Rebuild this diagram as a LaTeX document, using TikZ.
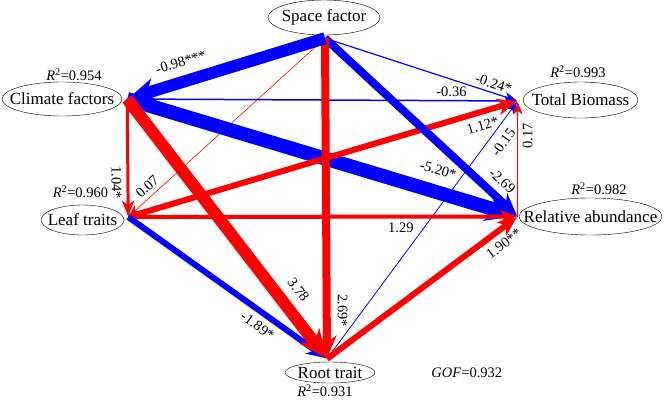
\documentclass[tikz,border=0pt]{standalone}
\usepackage{fontspec}
\setmainfont{Liberation Serif}
\usetikzlibrary{arrows.meta,positioning,shapes.geometric}

\begin{document}
\begin{tikzpicture}[x=1pt,y=-1pt,shorten >=1pt,
    >={Stealth[length=11pt 1.4,width=8pt 1.4,inset=3pt 0.45]},
    every node/.style={font=\fontsize{14.5}{16}\selectfont,inner sep=1pt},
    var/.style={ellipse,draw,thin,inner xsep=-20pt,inner ysep=0pt,
      font=\fontsize{17}{19}\selectfont},
    negl/.style={draw=blue,line width=#1},
    posl/.style={draw=red,line width=#1},
    lbl/.style={sloped,inner sep=1.5pt}]
  \useasboundingbox (0,0) rectangle (671,400);

  % variables
  \node[var,minimum width=112pt,minimum height=35pt] (space) at (324,17.5)  {Space factor};
  \node[var,minimum width=120pt,minimum height=34pt] (clim)  at (62,99)     {Climate factors};
  \node[var,minimum width=83pt,minimum height=30pt]  (leaf)  at (82.5,220)  {Leaf traits};
  \node[var,minimum width=90pt,minimum height=21pt,inner ysep=-1.5pt] (root) at (330,372.5) {Root trait};
  \node[var,minimum width=115pt,minimum height=36pt] (tbio)  at (580.5,100) {Total Biomass};
  \node[var,minimum width=143pt,minimum height=37pt] (rabd)  at (590.5,216.5) {Relative abundance};

  % where the paths meet
  \coordinate (sp) at ([xshift=1pt,yshift=-3pt]space.south);
  \coordinate (cl) at ([xshift=5pt]clim.east);
  \coordinate (lf) at ([xshift=4pt,yshift=3pt]leaf.east);
  \coordinate (rt) at ([xshift=-3pt,yshift=3pt]root.north);
  \coordinate (tb) at ([xshift=-5pt,yshift=-1pt]tbio.west);
  \coordinate (ra) at ([xshift=-1pt]rabd.west);

  % explained variance
  \node (r2c) [above=0pt of clim,xshift=12pt]   {\textit{R}\textsuperscript{2}=0.954};
  \node (r2t) [above=3pt of tbio,xshift=-2.5pt] {\textit{R}\textsuperscript{2}=0.993};
  \node (r2l) [above=6pt of leaf,xshift=-2pt]   {\textit{R}\textsuperscript{2}=0.960};
  \node (r2r) [above=2pt of rabd,xshift=8.5pt]  {\textit{R}\textsuperscript{2}=0.982};
  \node (r2o) [below=0pt of root,xshift=-5pt]   {\textit{R}\textsuperscript{2}=0.931};
  \node (gof) [right=55pt of root]              {\textit{GOF}=0.932};

  \path[->]
  (sp) edge[posl=0.6pt]  node[lbl,above=3pt,pos=0.87] {0.07} (lf)
       edge[negl=1.2pt]  node[lbl,above=2pt,pos=0.86] {-0.24*} (tb)
  (cl) edge[negl=1.5pt]  node[above=2pt,pos=0.83] {-0.36} (tb)
  (rt) edge[negl=0.8pt]  node[lbl,below=6pt,pos=0.87] {-0.15} (tb)
  (ra) edge[posl=1pt]    node[lbl,below=3pt,pos=0.7] {0.17} (tb)
  (cl) edge[posl=3pt]    node[lbl,below=3.5pt,pos=0.71] {1.04*} (lf)
       edge[negl=14pt]   node[lbl,above=8pt,pos=0.78] {-5.20*} (ra)
  (lf) edge[posl=6pt]    node[lbl,below=4pt,pos=0.9] {1.12*} (tb)
  (sp) edge[negl=8pt]    node[lbl,above=5pt,pos=0.865] {-2.69} (ra)
       edge[posl=8pt]    node[lbl,above=5.5pt,pos=0.85] {2.69*} (rt)
       edge[negl=12pt]   node[lbl,above=7pt,pos=0.7] {-0.98***} (cl)
  (lf) edge[posl=4pt]    node[below=3pt,pos=0.7] {1.29} (ra)
       edge[negl=6pt]    node[lbl,below=4pt,pos=0.69] {-1.89*} (rt)
  (cl) edge[posl=12pt]   node[lbl,above=7pt,pos=0.78] {3.78} (rt)
  (rt) edge[posl=6pt]    node[lbl,below=4pt,pos=0.885] {1.90**} (ra);
\end{tikzpicture}
\end{document}
